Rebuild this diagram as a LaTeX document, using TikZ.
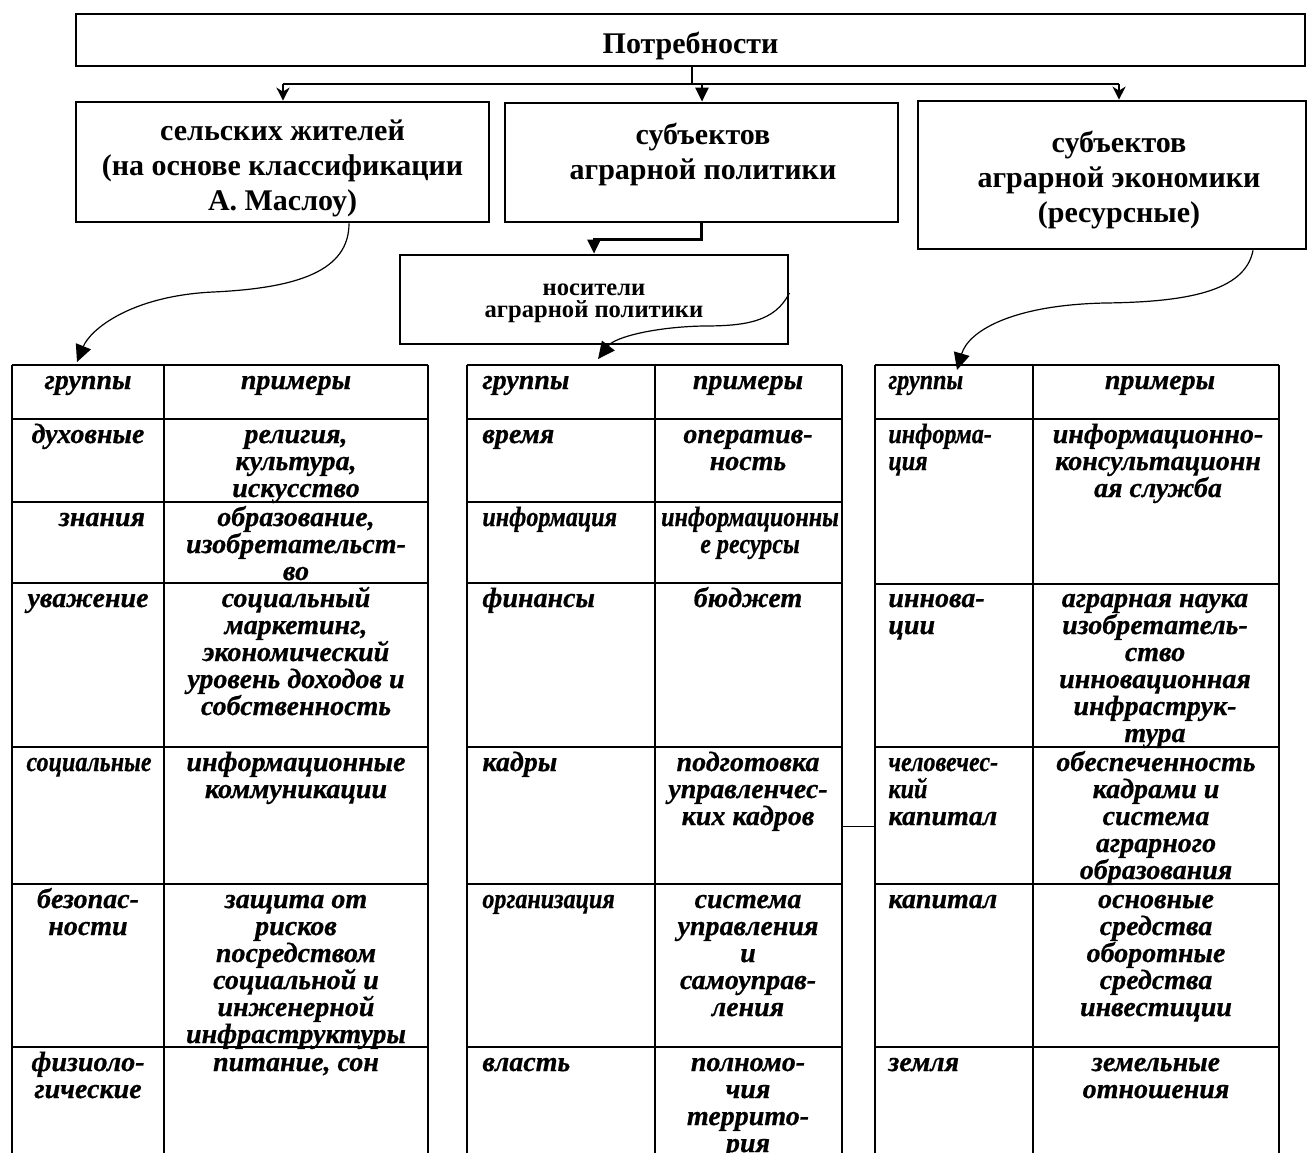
\documentclass[tikz,border=0pt]{standalone}
\usepackage{fontspec}
\setmainfont{Liberation Serif}
\newfontfamily\tblface[FakeBold=0.6]{Liberation Serif}
\usepackage{graphicx}
\usetikzlibrary{arrows.meta}

% fonts
\newcommand{\hdrfont}{\fontsize{15pt}{17.5pt}\selectfont\bfseries\lineskiplimit=-100pt}
\newcommand{\smallhdrfont}{\fontsize{12.3pt}{11.2pt}\selectfont\bfseries\lineskiplimit=-100pt}
\newcommand{\tblfont}{\tblface\fontsize{14pt}{13.5pt}\selectfont\bfseries\itshape\lineskiplimit=-100pt}
\newcommand{\narrow}[1]{\scalebox{0.86}[1]{#1}}
% cell contents: the box baseline is the baseline of the first line
\newcommand{\cbox}[1]{\parbox[t]{150pt}{\centering #1}}
\newcommand{\lbox}[1]{\parbox[t]{80pt}{\raggedright #1}}
\newcommand{\hdrbox}[1]{\parbox[t]{240pt}{\centering #1}}

\tikzset{
  box/.style={draw, line width=1.35pt, inner sep=0pt},
  conn/.style={line width=1.3pt},
  crv/.style={line width=0.6pt},
  tline/.style={line width=1.4pt},
  hair/.style={line width=0.5pt},
  hlbl/.style={anchor=base, inner sep=0pt, font=\hdrfont},
  cc/.style={anchor=base, inner sep=0pt, font=\tblfont},
  cl/.style={anchor=base west, inner sep=0pt, font=\tblfont},
  arrS/.style={-{Stealth[length=6.5pt,width=6.5pt,inset=2pt]}},
  arrT/.style={-{Triangle[length=7pt,width=6.5pt]}},
  arrC/.style={-{Triangle[length=8.5pt,width=8pt]}}
}

\begin{document}
\begin{tikzpicture}[x=0.5pt,y=-0.5pt]
\useasboundingbox (0,0) rectangle (1309,1152);

% ---------- upper boxes ----------
\node[box, minimum width=614.5pt, minimum height=26pt] (top) at (690.5,40) {};
\node[hlbl] (topL) at (690.5,53) {Потребности};

\node[box, minimum width=206.5pt, minimum height=60pt] (box1) at (282.5,162) {};
\node[hlbl] (box1L) at (282.5,140) {\hdrbox{сельских жителей\\(на основе классификации\\А. Маслоу)}};

\node[box, minimum width=196.5pt, minimum height=59.5pt] (box2) at (701.5,162.5) {};
\node[hlbl] (box2L) at (703,144) {\hdrbox{субъектов\\аграрной политики}};

\node[box, minimum width=194pt, minimum height=74pt] (box3) at (1112,175) {};
\node[hlbl] (box3L) at (1119,152) {\hdrbox{субъектов\\аграрной экономики\\(ресурсные)}};

\node[box, minimum width=194pt, minimum height=44.5pt] (nos) at (594,299.5) {};
\node[anchor=base, inner sep=0pt, font=\smallhdrfont] (nosL) at (594,295) {\hdrbox{носители\\аграрной политики}};

% ---------- distribution bus ----------
\coordinate (bus) at (692,84);
\coordinate (busL) at (283,84);
\coordinate (busM) at (702,84);
\coordinate (busR) at (1119,84);
\draw[conn] (top.south -| bus) -- (bus);
\draw[conn] (busL) -- (busR);
\draw[conn, arrS] (busL) -- (busL |- box1.north);
\draw[conn, arrT] (busM) -- (busM |- box2.north);
\draw[conn, arrS] (busR) -- (busR |- box3.north);
\draw[conn, arrT] (box2.south) -- ++(0,16) -| (nos.north);

% ---------- curved links to the tables ----------
\coordinate (t1) at (77,362);
\coordinate (t2) at (598,359);
\coordinate (t3) at (957,370);
\draw[crv, arrC] ([xshift=33.25pt]box1.south)
  .. controls (349,270) and (300,288) .. (213,292)
  .. controls (130,296) and (90,330) .. (t1);
\draw[crv, arrC] ([yshift=3.25pt]nos.east)
  .. controls (775,322) and (745,326) .. (703,326)
  .. controls (655,327) and (615,337) .. (t2);
\draw[crv, arrC] ([xshift=70.5pt]box3.south)
  .. controls (1245,292) and (1185,302) .. (1105,303)
  .. controls (1010,305) and (968,332) .. (t3);

% ---------- table grids ----------
\foreach \y in {365,419,502,583,747,884,1047} {
  \draw[tline] (12,\y) -- (428,\y);
  \draw[tline] (467,\y) -- (842,\y);
}
\foreach \y in {365,419,584,747,884,1047}
  \draw[tline] (875,\y) -- (1279,\y);
\foreach \x in {12,164,428,467,655,842,875,1033,1279}
  \draw[tline] (\x,365) -- (\x,1156);
\draw[hair] (842,826) -- (875,826);

% ---------- table 1 ----------
\node[cc] (a0g) at (88,389) {группы};
\node[cc] (a0p) at (296,389) {примеры};
\node[cc] (a1g) at (88,443) {\cbox{духовные}};
\node[cc] (a1p) at (296,443) {\cbox{религия,\\культура,\\искусство}};
\node[cc] (a2g) at (102,526) {\cbox{знания}};
\node[cc] (a2p) at (296,526) {\cbox{образование,\\изобретательст-\\во}};
\node[cc] (a3g) at (88,607) {\cbox{уважение}};
\node[cc] (a3p) at (296,607) {\cbox{социальный\\маркетинг,\\экономический\\уровень доходов и\\собственность}};
\node[cc] (a4g) at (89,771) {\narrow{социальные}};
\node[cc] (a4p) at (296,771) {\cbox{информационные\\коммуникации}};
\node[cc] (a5g) at (88,908) {\cbox{безопас-\\ности}};
\node[cc] (a5p) at (296,908) {\cbox{защита от\\рисков\\посредством\\социальной и\\инженерной\\инфраструктуры}};
\node[cc] (a6g) at (88,1071) {\cbox{физиоло-\\гические}};
\node[cc] (a6p) at (296,1071) {\cbox{питание, сон}};

% ---------- table 2 ----------
\node[cl] (b0g) at (482,389) {группы};
\node[cc] (b0p) at (748,389) {примеры};
\node[cl] (b1g) at (482,443) {время};
\node[cc] (b1p) at (748,443) {\cbox{оператив-\\ность}};
\node[cl] (b2g) at (482,526) {\narrow{информация}};
\node[cc] (b2p) at (750,526) {\cbox{\narrow{информационны}\\\narrow{е ресурсы}}};
\node[cl] (b3g) at (482,607) {финансы};
\node[cc] (b3p) at (748,607) {\cbox{бюджет}};
\node[cl] (b4g) at (482,771) {кадры};
\node[cc] (b4p) at (748,771) {\cbox{подготовка\\управленчес-\\ких кадров}};
\node[cl] (b5g) at (482,908) {\narrow{организация}};
\node[cc] (b5p) at (748,908) {\cbox{система\\управления\\и\\самоуправ-\\ления}};
\node[cl] (b6g) at (482,1071) {власть};
\node[cc] (b6p) at (748,1071) {\cbox{полномо-\\чия\\террито-\\рия}};

% ---------- table 3 ----------
\node[cl] (c0g) at (888,389) {\narrow{группы}};
\node[cc] (c0p) at (1160,389) {примеры};
\node[cl] (c1g) at (888,443) {\lbox{\narrow{информа-}\\\narrow{ция}}};
\node[cc] (c1p) at (1158,443) {\cbox{информационно-\\консультационн\\ая служба}};
\node[cl] (c3g) at (888,607) {\lbox{иннова-\\ции}};
\node[cc] (c3p) at (1155,607) {\cbox{аграрная наука\\изобретатель-\\ство\\инновационная\\инфраструк-\\тура}};
\node[cl] (c4g) at (888,771) {\lbox{\narrow{человечес-}\\\narrow{кий}\\капитал}};
\node[cc] (c4p) at (1156,771) {\cbox{обеспеченность\\кадрами и\\система\\аграрного\\образования}};
\node[cl] (c5g) at (888,908) {капитал};
\node[cc] (c5p) at (1156,908) {\cbox{основные\\средства\\оборотные\\средства\\инвестиции}};
\node[cl] (c6g) at (888,1071) {земля};
\node[cc] (c6p) at (1156,1071) {\cbox{земельные\\отношения}};
\end{tikzpicture}
\end{document}
